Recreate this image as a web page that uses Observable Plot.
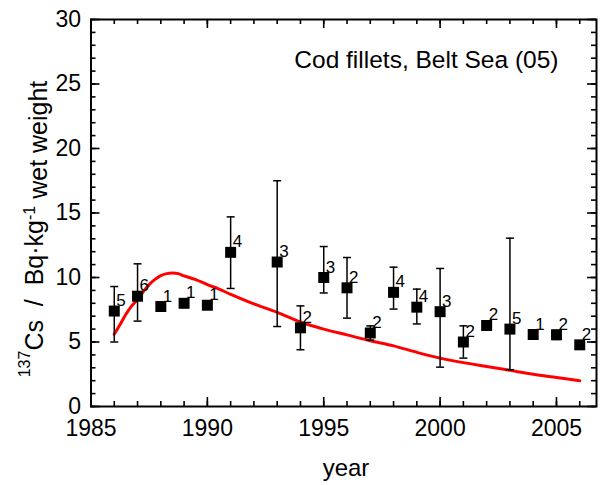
<!DOCTYPE html>
<html><head><meta charset="utf-8">
<script src="https://cdn.jsdelivr.net/npm/d3@7"></script>
<script src="https://cdn.jsdelivr.net/npm/@observablehq/plot@0.6"></script>
<style>
body{margin:0;background:#fff;}
#chart svg{font-family:"Liberation Sans",Arial,Helvetica,sans-serif;}
</style>
</head><body><div id="chart"></div>
<script>
// measured points: year, mean, error range low/high (null = none), number of samples
const years  = [1986, 1987, 1988, 1989, 1990, 1991, 1993, 1994, 1995, 1996, 1997, 1998, 1999, 2000, 2001, 2002, 2003, 2004, 2005, 2006];
const values = [7.4, 8.55, 7.75, 8.0, 7.85, 11.95, 11.2, 6.1, 10.0, 9.2, 5.7, 8.85, 7.7, 7.35, 5.0, 6.28, 6.0, 5.58, 5.56, 4.78];
const lows   = [5.0, 6.62, null, null, null, 9.15, 6.2, 4.4, 8.8, 6.85, 5.15, 7.55, 6.4, 3.05, 3.75, null, 2.85, null, 5.2, null];
const highs  = [9.3, 11.06, null, null, null, 14.7, 17.5, 7.8, 12.4, 11.55, 6.25, 10.8, 9.1, 10.7, 6.25, null, 13.05, null, 5.9, null];
const counts = [5, 6, 1, 1, 1, 4, 3, 2, 3, 2, 2, 4, 4, 3, 2, 2, 5, 1, 2, 2];

// model curve (red)
const modelYears  = [1986, 1986.25, 1986.5, 1986.75, 1987, 1987.25, 1987.5, 1987.75, 1988, 1988.25, 1988.5, 1988.75, 1989, 1989.5, 1990, 1990.5, 1991, 1992, 1993, 1994, 1995, 1996, 1997, 1998, 1999, 2000, 2001, 2002, 2003, 2004, 2005, 2006];
const modelValues = [5.6, 6.35, 7.15, 7.8, 8.3, 8.9, 9.45, 9.85, 10.15, 10.3, 10.35, 10.3, 10.12, 9.84, 9.45, 9.1, 8.7, 7.95, 7.3, 6.55, 6.0, 5.55, 5.1, 4.7, 4.2, 3.75, 3.4, 3.1, 2.8, 2.5, 2.25, 2.0];

// tick labels
const xTickLabels = [1985, 1990, 1995, 2000, 2005];
const yTickLabels = [0, 5, 10, 15, 20, 25, 30];
const xMinorTicks = d3.range(1985, 2007);
const yMinorTicks = d3.range(0, 31);

const titleText = "Cod fillets, Belt Sea (05)";

const W = 600, H = 485;
const mL = 90.5, mR = 4, mT = 19, mB = 79;
const PW = W - mL - mR, PH = H - mT - mB;

const pts = years.map((y, i) => ({year: y, v: values[i], lo: lows[i], hi: highs[i], n: counts[i]}));
const bars = pts.filter(d => d.lo != null);
const caps = bars.flatMap(d => [{year: d.year, v: d.lo}, {year: d.year, v: d.hi}]);
const model = modelYears.map((y, i) => ({year: y, v: modelValues[i]}));

const capSymbol = {draw(ctx) { ctx.moveTo(-4, 0); ctx.lineTo(4, 0); }};

const chart = Plot.plot({
  width: W, height: H,
  marginLeft: mL, marginRight: mR, marginTop: mT, marginBottom: mB,
  style: {fontSize: "23px", fontFamily: "'Liberation Sans', Arial, sans-serif", background: "#fff", color: "#000"},
  x: {domain: [1985, 2006.72]},
  y: {domain: [0, 30]},
  marks: [
    // inward ticks
    Plot.tickY(yMinorTicks, {y: d => d, insetRight: PW - 5, stroke: "#000", strokeWidth: 1.6}),
    Plot.tickY(yTickLabels, {y: d => d, insetRight: PW - 9, stroke: "#000", strokeWidth: 1.6}),
    Plot.tickY(yMinorTicks, {y: d => d, insetLeft: PW - 5, stroke: "#000", strokeWidth: 1.6}),
    Plot.tickY(yTickLabels, {y: d => d, insetLeft: PW - 9, stroke: "#000", strokeWidth: 1.6}),
    Plot.tickX(xMinorTicks, {x: d => d, insetTop: PH - 5, stroke: "#000", strokeWidth: 1.6}),
    Plot.tickX(xTickLabels, {x: d => d, insetTop: PH - 9, stroke: "#000", strokeWidth: 1.6}),
    Plot.tickX(xMinorTicks, {x: d => d, insetBottom: PH - 5, stroke: "#000", strokeWidth: 1.6}),
    Plot.tickX(xTickLabels, {x: d => d, insetBottom: PH - 9, stroke: "#000", strokeWidth: 1.6}),
    Plot.axisY(yTickLabels, {tickSize: 0, tickPadding: 10, label: null, fontSize: 23}),
    Plot.axisX(xTickLabels, {tickSize: 0, tickPadding: 13, label: null, fontSize: 23, tickFormat: d => String(d)}),
    // model line
    Plot.line(model, {x: "year", y: "v", stroke: "#ff0000", strokeWidth: 3, curve: "catmull-rom"}),
    // error bars
    Plot.ruleX(bars, {x: "year", y1: "lo", y2: "hi", stroke: "#000", strokeWidth: 1.5}),
    Plot.dot(caps, {x: "year", y: "v", symbol: capSymbol, stroke: "#000", strokeWidth: 1.5, fill: "none", r: 4}),
    // points
    Plot.dot(pts, {x: "year", y: "v", symbol: "square", r: 6.2, fill: "#000", stroke: "none"}),
    Plot.text(pts, {x: "year", y: "v", text: "n", dx: 2, dy: -5, textAnchor: "start", lineAnchor: "bottom", fontSize: 17, fill: "#000"}),
    Plot.text([titleText], {frameAnchor: "top-right", dx: -38, dy: 31, textAnchor: "end", lineAnchor: "top", fontSize: 24.5, fill: "#000"}),
    Plot.frame({stroke: "#000", strokeWidth: 2})
  ]
});

document.getElementById("chart").appendChild(chart);

const svg = d3.select(chart);
// y-axis label with superscripts
const yl = svg.append("text")
  .attr("transform", `translate(38, ${229}) rotate(-90)`)
  .attr("text-anchor", "middle")
  .attr("fill", "#000")
  .style("font-size", "25px");
yl.append("tspan").text("137").style("font-size", "16px").attr("dy", "-0.5em");
yl.append("tspan").text("Cs\u00a0\u00a0/\u00a0\u00a0Bq\u00b7kg").attr("dy", "0.5em");
yl.append("tspan").text("-1").style("font-size", "16px").attr("dy", "-0.5em");
yl.append("tspan").text("\u00a0wet weight").attr("dy", "0.5em");

// x-axis label
svg.append("text")
  .attr("x", 346).attr("y", 476)
  .attr("text-anchor", "middle")
  .attr("fill", "#000")
  .style("font-size", "24px")
  .text("year");
</script>
</body></html>
